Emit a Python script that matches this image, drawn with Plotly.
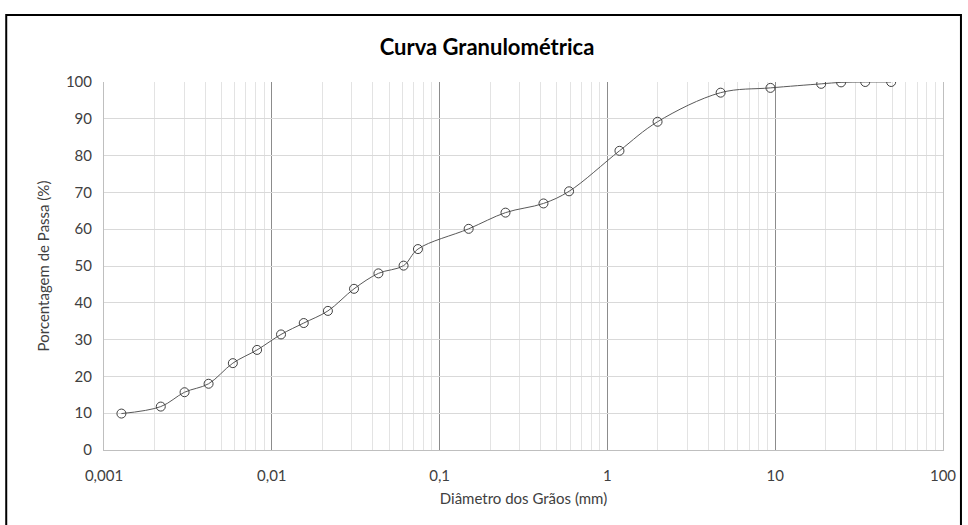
import plotly.graph_objects as go

# Data
diameter_mm = [0.00127, 0.00218, 0.00302, 0.0042, 0.00586, 0.00817, 0.01135, 0.0155,
               0.0216, 0.0309, 0.0432, 0.061, 0.0743, 0.149, 0.247, 0.416, 0.591,
               1.18, 1.99, 4.73, 9.37, 18.8, 24.7, 34.4, 49.1]
passing_pct = [9.9, 11.8, 15.7, 18.0, 23.6, 27.2, 31.4, 34.5,
               37.8, 43.8, 48.0, 50.1, 54.6, 60.1, 64.5, 67.0, 70.3,
               81.3, 89.2, 97.1, 98.4, 99.5, 99.9, 100.0, 100.0]

x_tick_vals = [0.001, 0.01, 0.1, 1, 10, 100]
x_tick_text = ["0,001", "0,01", "0,1", "1", "10", "100"]
y_tick_vals = [0, 10, 20, 30, 40, 50, 60, 70, 80, 90, 100]

title_text = "Curva Granulométrica"
x_title = "Diâmetro dos Grãos (mm)"
y_title = "Porcentagem de Passa (%)"

FONT = "Lato, 'Open Sans', sans-serif"
W, H = 968, 525
L, R, T, B = 104, 23, 82, 75
PW, PH = W - L - R, H - T - B

fig = go.Figure()
fig.add_trace(go.Scatter(
    x=diameter_mm, y=passing_pct,
    mode="lines+markers",
    line=dict(color="#595959", width=1, shape="spline", smoothing=1),
    marker=dict(symbol="circle-open", size=9, color="#404040", line=dict(width=1)),
    showlegend=False,
))

def px_to_paper_x(px):
    return (px - L) / PW

def px_to_paper_y(py):
    return (H - B - py) / PH

fig.update_layout(
    width=W, height=H,
    margin=dict(l=L, r=R, t=T, b=B, pad=0),
    paper_bgcolor="white", plot_bgcolor="white",
    font=dict(family=FONT, size=15, color="#404040"),
    title=dict(text="<b>" + title_text + "</b>", x=487 / W, xanchor="center",
               y=1 - 47 / H, yanchor="middle", yref="container",
               font=dict(family=FONT, size=22, color="#000000")),
    xaxis=dict(
        type="log", range=[-3, 2],
        tickvals=x_tick_vals, ticktext=x_tick_text,
        showgrid=True, gridcolor="#8c8c8c", gridwidth=1,
        minor=dict(dtick="D1", showgrid=True, gridcolor="#e3e3e3", gridwidth=1, ticks=""),
        showline=True, linecolor="#bfbfbf", linewidth=1,
        ticks="", ticklabelstandoff=12,
        tickfont=dict(family=FONT, size=15, color="#404040"),
        title=dict(text=x_title, standoff=10, font=dict(family=FONT, size=15, color="#404040")),
        zeroline=False,
    ),
    yaxis=dict(
        range=[0, 100], tickvals=y_tick_vals,
        showgrid=True, gridcolor="#d9d9d9", gridwidth=1,
        showline=True, linecolor="#bfbfbf", linewidth=1, mirror=True,
        ticks="", ticklabelstandoff=8,
        tickfont=dict(family=FONT, size=15, color="#404040"),
        title=dict(text=y_title, standoff=12, font=dict(family=FONT, size=15, color="#404040")),
        zeroline=False,
    ),
    shapes=[dict(
        type="rect", xref="paper", yref="paper",
        x0=px_to_paper_x(6), x1=px_to_paper_x(963),
        y0=px_to_paper_y(540), y1=px_to_paper_y(15),
        line=dict(color="#000000", width=2), fillcolor="rgba(0,0,0,0)", layer="above",
    )],
)

fig.write_html("out.html", config={"displayModeBar": False},
               post_script="document.body.style.margin='0px';")
